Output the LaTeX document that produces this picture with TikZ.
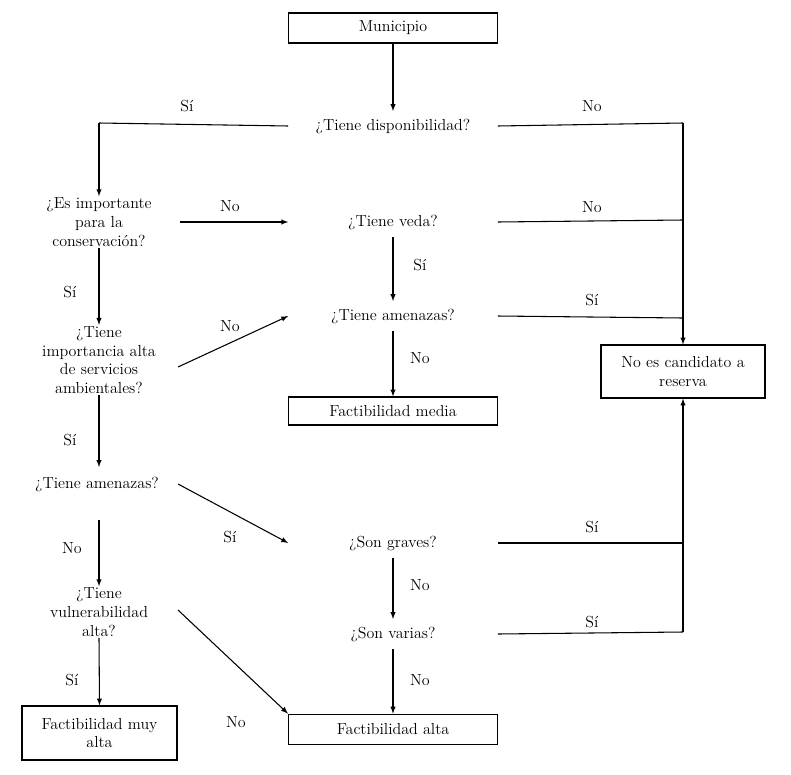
\documentclass[tikz,border=0pt]{standalone}
\begin{document}
\begin{tikzpicture}[x=0.75pt,y=-0.75pt,font=\fontsize{12}{14}\selectfont,
 box/.style={draw,thick,minimum height=22.5pt,inner sep=2pt,align=center},
 q/.style={align=center,inner sep=1pt},
 qm/.style={align=center,inner sep=0pt,minimum width=156.75pt,minimum height=22pt},
 lab/.style={inner sep=1pt},
 ar/.style={thick,-latex},
 ln/.style={thick}]
\useasboundingbox (0,0) rectangle (791,774);
\node[box,minimum width=156.75pt] (mun) at (393,28) {Municipio};
\node[qm] (disp) at (393,126) {¿Tiene disponibilidad?};
\node[q] (cons) at (99,222) {¿Es importante\\para la\\conservación?};
\node[qm] (veda) at (393,222) {¿Tiene veda?};
\node[qm] (am1) at (393,316) {¿Tiene amenazas?};
\node[q] (serv) at (99,360) {¿Tiene\\importancia alta\\de servicios\\ambientales?};
\node[box,minimum width=156.75pt,minimum height=21pt] (fmed) at (393,411) {Factibilidad media};
\node[box,minimum width=123pt,minimum height=39.75pt] (nc) at (683,371.5) {No es candidato a\\reserva};
\node[q] (am2) at (97,484) {¿Tiene amenazas?};
\node[qm] (grav) at (393,543) {¿Son graves?};
\node[qm] (var) at (393,634) {¿Son varias?};
\node[q] (vul) at (99,612) {¿Tiene\\vulnerabilidad\\alta?};
\node[box,minimum width=156.75pt,minimum height=23pt] (falta) at (393,729.5) {Factibilidad alta};
\node[box,minimum width=116.25pt,minimum height=40.5pt] (fmuy) at (99.5,733) {Factibilidad muy\\alta};
\coordinate (c1) at (99,123);
\coordinate (c2) at (683,123);
\coordinate (c3) at (683,543);
\coordinate (c4) at (683,632);
\coordinate (e1) at (180,222);
\coordinate (e2) at (178,367);
\coordinate (e3) at (178,484);
\coordinate (e4) at (178,610);
\draw[ar] (mun.south) -- (disp.north);
\draw[ln] (disp.west) -- (c1);
\draw[ar] (c1) -- (cons.north);
\draw[ln] (disp.east) -- (c2);
\draw[ar] (c2) -- (nc.north);
\draw[ar] (e1) -- (veda.west);
\draw[ln] (veda.east) -- (683,220);
\draw[ar] (veda.south) -- (am1.north);
\draw[ln] (am1.east) -- (683,318);
\draw[ar] (cons.south) -- (serv.north);
\draw[ar] (e2) -- (am1.west);
\draw[ar] (am1.south) -- (fmed.north);
\draw[ar] (serv.south) -- (99,467);
\draw[ar] (e3) -- (grav.west);
\draw[ln] (grav.east) -- (c3);
\draw[ln] (var.east) -- (c4);
\draw[ar] (c4) -- (nc.south);
\draw[ar] (grav.south) -- (var.north);
\draw[ar] (var.south) -- (falta.north);
\draw[ar] (99,520) -- (vul.north);
\draw[ar] (e4) -- (falta.north west);
\draw[ar] (vul.south) -- (fmuy.north);
\node[lab] at (187,106) {Sí};
\node[lab] at (592,106) {No};
\node[lab] at (230,206) {No};
\node[lab] at (592,207) {No};
\node[lab] at (420,265) {Sí};
\node[lab] at (592,300) {Sí};
\node[lab] at (70,292) {Sí};
\node[lab] at (230,326) {No};
\node[lab] at (420,358) {No};
\node[lab] at (70,440) {Sí};
\node[lab] at (230,537) {Sí};
\node[lab] at (592,527) {Sí};
\node[lab] at (592,622) {Sí};
\node[lab] at (420,585) {No};
\node[lab] at (420,680) {No};
\node[lab] at (72,548) {No};
\node[lab] at (236,722) {No};
\node[lab] at (72,680) {Sí};
\end{tikzpicture}
\end{document}
